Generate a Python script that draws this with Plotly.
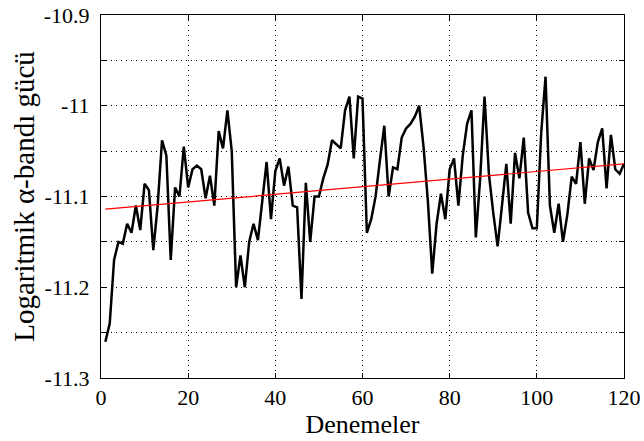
import plotly.graph_objects as go

trials = list(range(1, 121))
alpha_power = [
    -11.26, -11.24, -11.17, -11.15, -11.152, -11.13, -11.14, -11.11, -11.137, -11.086,
    -11.093, -11.159, -11.11, -11.038, -11.055, -11.17, -11.09, -11.10, -11.045, -11.09,
    -11.07, -11.066, -11.07, -11.102, -11.077, -11.11, -11.028, -11.047, -11.005, -11.05,
    -11.20, -11.165, -11.20, -11.15, -11.13, -11.148, -11.105, -11.062, -11.125, -11.072,
    -11.058, -11.088, -11.067, -11.11, -11.112, -11.213, -11.085, -11.15, -11.10, -11.10,
    -11.08, -11.065, -11.038, -11.042, -11.047, -11.005, -10.99, -11.058, -10.99, -10.992,
    -11.14, -11.125, -11.10, -11.06, -11.022, -11.10, -11.068, -11.07, -11.035, -11.025,
    -11.02, -11.012, -11.0, -11.045, -11.105, -11.185, -11.13, -11.097, -11.125, -11.07,
    -11.058, -11.11, -11.055, -11.02, -11.005, -11.145, -11.08, -10.99, -11.075, -11.118,
    -11.155, -11.11, -11.064, -11.13, -11.052, -11.08, -11.035, -11.118, -11.135, -11.135,
    -11.03, -10.968, -11.11, -11.14, -11.108, -11.15, -11.12, -11.078, -11.086, -11.04,
    -11.108, -11.058, -11.071, -11.04, -11.025, -11.091, -11.032, -11.07, -11.075, -11.064,
]
trend_x = [1, 120]
trend_y = [-11.114, -11.064]

x_ticks = [0, 20, 40, 60, 80, 100, 120]
y_ticks = [-11.3, -11.25, -11.2, -11.15, -11.1, -11.05, -11.0, -10.95, -10.9]
y_ticktext = ["-11.3", "", "-11.2", "", "-11.1", "", "-11", "", "-10.9"]

fig = go.Figure()
fig.add_trace(go.Scatter(x=trials, y=alpha_power, mode="lines",
                         line=dict(color="black", width=2.5), showlegend=False))
fig.add_trace(go.Scatter(x=trend_x, y=trend_y, mode="lines",
                         line=dict(color="red", width=1.2), showlegend=False))

tick_font = dict(family="Liberation Serif", size=22, color="black")
xtitle_font = dict(family="Liberation Serif", size=26, color="black")
ytitle_font = dict(family="Liberation Serif", size=29, color="black")
fig.update_layout(
    width=644, height=441,
    margin=dict(l=101, r=20, t=15, b=63),
    paper_bgcolor="white", plot_bgcolor="white",
    font=tick_font,
)
fig.update_xaxes(
    range=[0, 120], tickvals=x_ticks, ticktext=[str(v) for v in x_ticks],
    tickfont=tick_font, ticklabeloverflow="allow",
    showgrid=True, gridcolor="black", gridwidth=1, griddash="1px,4px",
    showline=True, linecolor="black", linewidth=1, mirror="ticks",
    ticks="inside", ticklen=5, tickcolor="black", zeroline=False,
    automargin=False, ticklabelstandoff=0,
    title=dict(text="Denemeler", font=xtitle_font, standoff=0),
)
fig.update_yaxes(
    range=[-11.3, -10.9], tickvals=y_ticks, ticktext=y_ticktext,
    tickfont=tick_font, ticklabeloverflow="allow",
    showgrid=True, gridcolor="black", gridwidth=1, griddash="1px,4px",
    showline=True, linecolor="black", linewidth=1, mirror="ticks",
    ticks="inside", ticklen=5, tickcolor="black", zeroline=False,
    automargin=False, ticklabelstandoff=6,
    title=dict(text="Logaritmik α-bandı gücü", font=ytitle_font, standoff=0),
)
fig.write_html(
    "out.html",
    config={"displayModeBar": False},
    post_script="document.body.style.margin='0';document.body.style.overflow='hidden';",
)
